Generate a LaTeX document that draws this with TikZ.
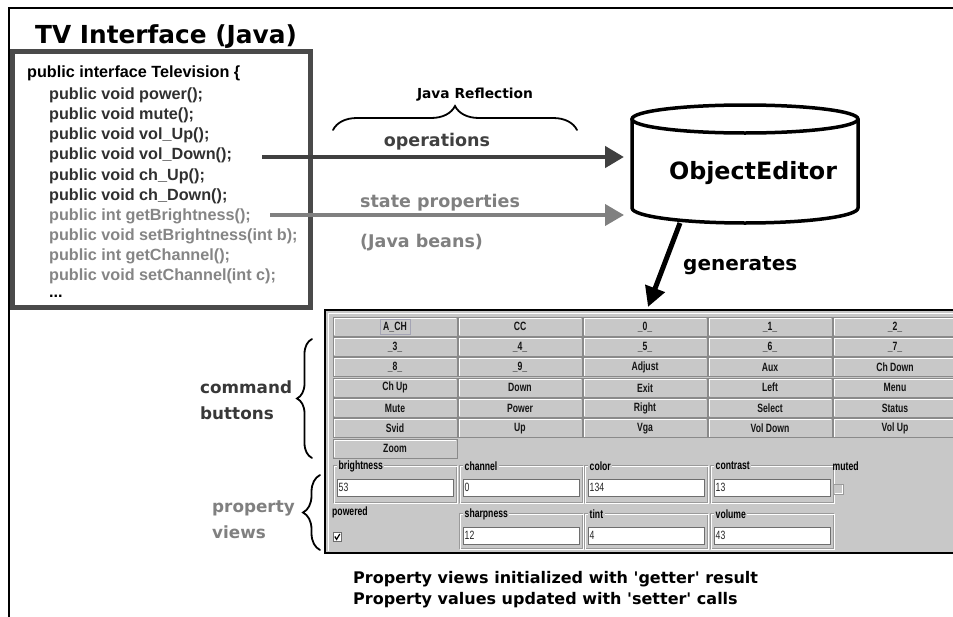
\documentclass[tikz,border=0pt]{standalone}
\usepackage{fontspec}
\setmainfont{Liberation Sans}
\newfontfamily\comicfont{DejaVu Sans}
\newfontfamily\codefont{Liberation Sans}
\newfontfamily\guifont{Liberation Sans}[FakeStretch=0.72]
\usetikzlibrary{arrows.meta,decorations.pathreplacing}

\definecolor{framegray}{HTML}{4A4A4A}
\definecolor{opsgray}{HTML}{404040}
\definecolor{stategray}{HTML}{808080}
\definecolor{codedark}{HTML}{303030}
\definecolor{codelight}{HTML}{858585}
\definecolor{guibg}{HTML}{C8C8C8}
\definecolor{btnedge}{HTML}{8A8A8A}
\definecolor{etchgray}{HTML}{9A9A9A}
\definecolor{fieldedge}{HTML}{6E6E6E}
\definecolor{focusedge}{HTML}{A4A4B4}

% one titled property view: name, left x, top y, bottom y, title, value
\newcommand\propview[6]{%
  \draw[etchgray] (#2,#3) rectangle (#2+123,#4);
  \draw[white] (#2+1,#3+1) rectangle (#2+124,#4+1);
  \node[grplabel] (#1-label) at (#2+4,#3+1) {#5};
  \draw[fieldbox] (#2+4,#3+14) rectangle (#2+120,#3+31);
  \node[valtext] (#1-value) at (#2+5.5,#3+22.5) {#6};
}

\begin{document}
\begin{tikzpicture}[x=1pt, y=-1pt,
  comic/.style={inner sep=0pt},
  codeline/.style={font={\codefont\bfseries\fontsize{16.2}{19}\selectfont}, anchor=base west, inner sep=0pt},
  btntext/.style={font={\guifont\bfseries\fontsize{12}{13}\selectfont}, text=black!92, inner sep=0pt},
  grplabel/.style={font={\guifont\bfseries\fontsize{12}{13}\selectfont}, fill=guibg, inner xsep=1.5pt, inner ysep=0pt, anchor=west},
  valtext/.style={font={\guifont\fontsize{12}{13}\selectfont}, text=black!85, inner sep=0pt, anchor=west},
  fieldbox/.style={draw=fieldedge, fill=white, line width=0.8pt},
  bigbrace/.style={decorate, line width=1.8pt, line cap=round},
  thickarrow/.style={-{Triangle[length=19pt,width=21pt]}},
]
\useasboundingbox (0,0) rectangle (953,616);
\fill[white] (0,0) rectangle (953,616);
\clip (0,0) rectangle (953,616);

% outer frame
\draw[line width=1.6pt] (9,640) -- (9,8) -- (980,8);

% title
\node[comic, font={\comicfont\bfseries\fontsize{24.8}{28}\selectfont}, anchor=base] (title) at (166,43) {TV Interface (Java)};

% interface listing
\draw[framegray, line width=5pt, fill=white] (12.5,51.5) rectangle (310.5,307.5);
\node[codeline] (code-head) at (27,77.5) {public interface Television \{};
\node[codeline, text=codedark] (code-1) at (49,99.6) {public void power();};
\node[codeline, text=codedark] (code-2) at (49,119.7) {public void mute();};
\node[codeline, text=codedark] (code-3) at (49,139.8) {public void vol\_Up();};
\node[codeline, text=codedark] (code-4) at (49,159.9) {public void vol\_Down();};
\node[codeline, text=codedark] (code-5) at (49,180.0) {public void ch\_Up();};
\node[codeline, text=codedark] (code-6) at (49,200.1) {public void ch\_Down();};
\node[codeline, text=codelight] (code-7) at (49,220.2) {public int getBrightness();};
\node[codeline, text=codelight] (code-8) at (49,240.3) {public void setBrightness(int b);};
\node[codeline, text=codelight] (code-9) at (49,260.4) {public int getChannel();};
\node[codeline, text=codelight] (code-10) at (49,280.5) {public void setChannel(int c);};
\node[codeline] (code-dots) at (49,297) {...};

% reflection arrows
\coordinate (ops-from) at (262,157);
\coordinate (ops-to) at (624,157);
\coordinate (st-from) at (270,215);
\coordinate (st-to) at (624,215);
\draw[opsgray, line width=4.5pt, thickarrow] (ops-from) -- (ops-to);
\draw[stategray, line width=4pt, thickarrow] (st-from) -- (st-to);

\coordinate (refl-l) at (333,130);
\coordinate (refl-r) at (577,130);
\draw[bigbrace, decoration={brace, amplitude=24pt}] (refl-l) -- (refl-r);
\node[comic, font={\comicfont\bfseries\fontsize{13.8}{16}\selectfont}, anchor=base] (refl) at (475,98) {Java Reflection};
\node[comic, font={\comicfont\bfseries\fontsize{17.5}{20}\selectfont}, text=opsgray, anchor=base] (ops) at (437,146) {operations};
\node[comic, font={\comicfont\bfseries\fontsize{17.5}{20}\selectfont}, text=stategray, anchor=base west] (st) at (360,207) {state properties};
\node[comic, font={\comicfont\bfseries\fontsize{17.5}{20}\selectfont}, text=stategray, anchor=base west] (beans) at (360,247) {(Java beans)};

% ObjectEditor cylinder
\fill[white] (632,119) -- (632,208) arc[start angle=180, end angle=360, x radius=113pt, y radius=15pt] -- (858,119) -- cycle;
\draw[line width=3.5pt, line join=round] (632,119) -- (632,208) arc[start angle=180, end angle=360, x radius=113pt, y radius=15pt] -- (858,119);
\draw[line width=3.5pt, fill=white] (745,119) ellipse [x radius=113pt, y radius=14pt];
\node[comic, font={\comicfont\bfseries\fontsize{23.8}{27}\selectfont}, anchor=base] (oe) at (753,179) {ObjectEditor};

\coordinate (gen-from) at (680,223);
\coordinate (gen-to) at (648,307);
\draw[line width=5pt, -{Triangle[length=20pt,width=20pt]}] (gen-from) -- (gen-to);
\node[comic, font={\comicfont\bfseries\fontsize{20}{23}\selectfont}, anchor=base west] (gen) at (683,270) {generates};

% generated window
\draw[line width=2.5pt, fill=guibg] (325,310) rectangle (990,553);
\draw[white, line width=1pt] (328.5,551) -- (328.5,313.5) -- (990,313.5);

% command buttons
\foreach \lab [count=\k from 0] in {A\_CH,CC,\_0\_,\_1\_,\_2\_,\_3\_,\_4\_,\_5\_,\_6\_,\_7\_,\_8\_,\_9\_,Adjust,Aux,Ch Down,Ch Up,Down,Exit,Left,Menu,Mute,Power,Right,Select,Status,Svid,Up,Vga,Vol Down,Vol Up,Zoom} {
  \pgfmathtruncatemacro\r{int(\k/5)}
  \pgfmathtruncatemacro\c{mod(\k,5)}
  \draw[btnedge, fill=guibg] ({333+125*\c},{317+20.3*\r}) rectangle +(124,19);
  \draw[white] ({334+125*\c},{335+20.3*\r}) |- ({456+125*\c},{318+20.3*\r});
  \node[btntext] (btn-\k) at ({395+125*\c},{326.8+20.3*\r}) {\lab};
}
\draw[focusedge, line width=0.7pt] ([xshift=-3pt,yshift=2pt]btn-0.north west) rectangle ([xshift=3pt,yshift=-2pt]btn-0.south east);

% property views
\propview{brightness}{333}{465}{502}{brightness}{53}
\propview{channel}{459}{465}{502}{channel}{0}
\propview{color}{584}{465}{502}{color}{134}
\propview{contrast}{710}{465}{502}{contrast}{13}
\propview{sharpness}{459}{513}{548}{sharpness}{12}
\propview{tint}{584}{513}{548}{tint}{4}
\propview{volume}{710}{513}{548}{volume}{43}

\node[grplabel, fill=none] (muted-label) at (831,466.5) {muted};
\draw[etchgray, fill=guibg] (833.5,484) rectangle (843,494);
\draw[white] (834.5,493) -- (842,493) -- (842,485);

\node[grplabel, fill=none] (powered-label) at (330.5,512) {powered};
\draw[fieldedge, fill=white, line width=0.8pt] (333,532.5) rectangle (341.5,541);
\draw[line width=1.2pt] (334.8,536.5) -- (336.6,539.4) -- (339.8,534);

% braces at the left of the window
\coordinate (cmd-bot) at (312,458);
\coordinate (cmd-top) at (312,339);
\draw[bigbrace, decoration={brace, amplitude=15pt}] (cmd-bot) -- (cmd-top);
\node[comic, font={\comicfont\bfseries\fontsize{16.8}{20}\selectfont}, text=black!78, anchor=base west] (cmd1) at (200,393) {command};
\node[comic, font={\comicfont\bfseries\fontsize{16.8}{20}\selectfont}, text=black!78, anchor=base west] (cmd2) at (200,419) {buttons};

\coordinate (pv-bot) at (320,550);
\coordinate (pv-top) at (320,475);
\draw[bigbrace, decoration={brace, amplitude=17pt}] (pv-bot) -- (pv-top);
\node[comic, font={\comicfont\bfseries\fontsize{16.8}{20}\selectfont}, text=stategray, anchor=base west] (pv1) at (212,512) {property};
\node[comic, font={\comicfont\bfseries\fontsize{16.8}{20}\selectfont}, text=stategray, anchor=base west] (pv2) at (212,538) {views};

% notes
\node[comic, font={\comicfont\bfseries\fontsize{16}{19}\selectfont}, anchor=base west] (note1) at (353,583) {Property views initialized with \textquotesingle getter\textquotesingle\ result};
\node[comic, font={\comicfont\bfseries\fontsize{16}{19}\selectfont}, anchor=base west] (note2) at (353,604) {Property values updated with \textquotesingle setter\textquotesingle\ calls};
\end{tikzpicture}
\end{document}
